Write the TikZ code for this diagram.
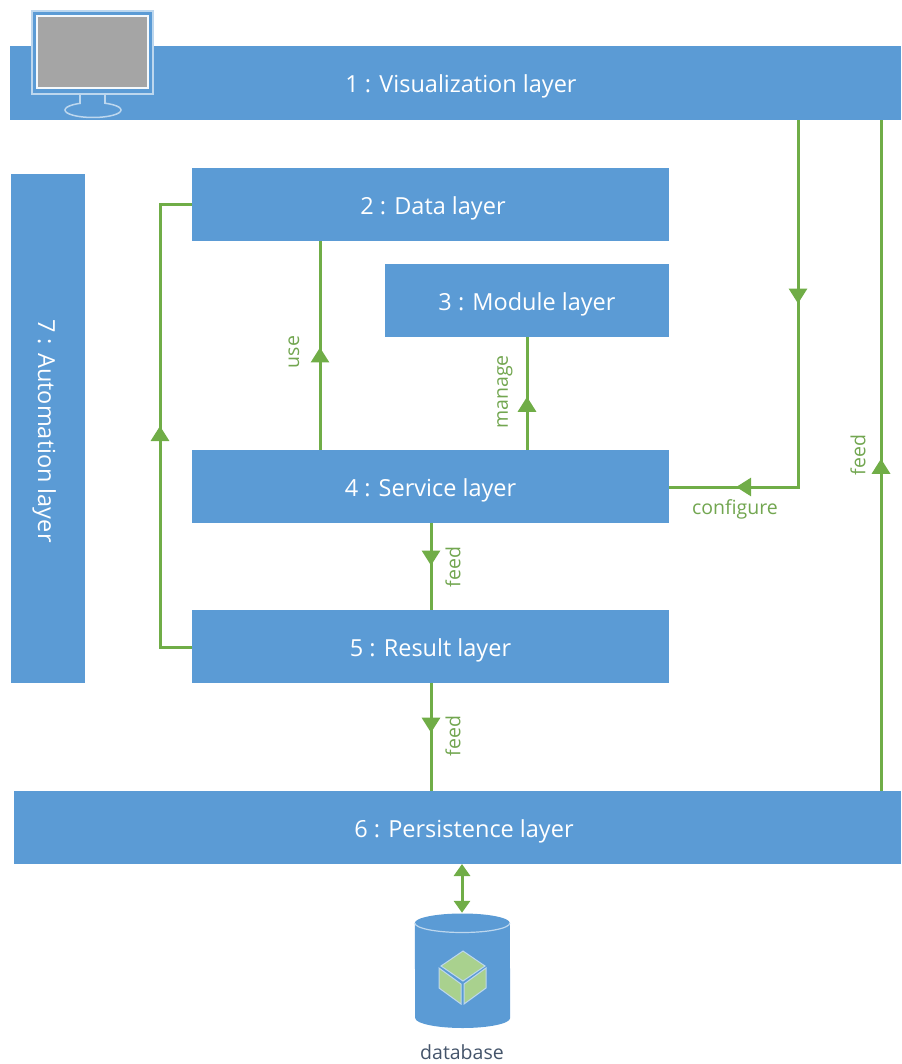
\documentclass[tikz,border=0pt]{standalone}
\usepackage{fontspec}
\setmainfont{Open Sans}
\usetikzlibrary{arrows.meta,decorations.markings}

\definecolor{layerblue}{HTML}{5B9BD5}
\definecolor{flowgreen}{HTML}{70AD47}
\definecolor{cubegreen}{HTML}{A9D18E}
\definecolor{edgeblue}{HTML}{BDD7EE}
\definecolor{screengray}{HTML}{A5A5A5}
\definecolor{dbtext}{HTML}{44546A}

\tikzset{
    layer/.style={fill=layerblue, text=white, inner sep=0pt, text height=22pt, text depth=2pt, font=\fontsize{23.5}{28}\selectfont},
    flowlabel/.style={text=flowgreen!85!gray, inner sep=0pt, font=\fontsize{19.5}{23}\selectfont},
    flow/.style={line width=3pt, draw=flowgreen},
    midhead/.style={flow, postaction={decorate}, decoration={markings,
        mark=at position #1 with {\arrow{Triangle[length=15pt,width=18pt]}}}},
    twoheads/.style 2 args={flow, postaction={decorate}, decoration={markings,
        mark=at position #1 with {\arrow{Triangle[length=15pt,width=18pt]}},
        mark=at position #2 with {\arrow{Triangle[length=15pt,width=18pt]}}}},
    bothheads/.style={flow, {Triangle[length=12pt,width=16pt]}-{Triangle[length=12pt,width=16pt]}}
}

\begin{document}
\begin{tikzpicture}[x=1pt,y=-1pt]
    \useasboundingbox (0,0) rectangle (901,1064);

    % zeichne layers
    \node (vis) [layer, minimum width=891pt, minimum height=74pt] at (455.5,83) {\hspace*{11pt}1 : Visualization layer};
    \node (data) [layer, minimum width=477pt, minimum height=73pt] at (430.5,204.5) {\hspace*{5pt}2 : Data layer};
    \node (module) [layer, minimum width=284pt, minimum height=73pt] at (527,300.5) {3 : Module layer};
    \node (service) [layer, minimum width=477pt, minimum height=73pt] at (430.5,486.5) {4 : Service layer};
    \node (result) [layer, minimum width=477pt, minimum height=73pt] at (430.5,646.5) {5 : Result layer};
    \node (persist) [layer, minimum width=887pt, minimum height=73pt] at (457.5,827.5) {\hspace*{13pt}6 : Persistence layer};
    \node (auto) [layer, rotate=-90, minimum width=509pt, minimum height=74pt] at (48,428.5) {\hspace*{5pt}7 : Automation layer};

    % zeichne monitor
    \draw[edgeblue, line width=1.8pt, fill=layerblue] (32,11) rectangle (153,94);
    \draw[white!85!edgeblue, line width=1.8pt, fill=screengray] (37,16) rectangle (148,88);
    \draw[edgeblue, line width=1.5pt] (93,110) ellipse [x radius=28, y radius=7.5];
    \fill[layerblue] (81,95) rectangle (104,105);
    \draw[edgeblue, line width=1.5pt] (80,94) -- (80,104);
    \draw[edgeblue, line width=1.5pt] (105,94) -- (105,104);

    % zeichne database
    \node (db) [inner sep=0pt, minimum width=95pt, minimum height=115pt] at (462.5,970.5) {};
    \fill[layerblue] (db.west |- 0,923) arc [start angle=180, end angle=0, x radius=47.5, y radius=-9.5]
        -- (db.east |- 0,1018) arc [start angle=0, end angle=-180, x radius=47.5, y radius=-10] -- cycle;
    \draw[edgeblue, line width=1.2pt] (db.west |- 0,923) arc [start angle=180, end angle=360, x radius=47.5, y radius=-9.5];
    \fill[cubegreen, draw=edgeblue, line width=1pt] (463,951) -- (485,966) -- (463,981) -- (441,966) -- cycle;
    \fill[cubegreen, draw=edgeblue, line width=1pt] (439,968) -- (461,984) -- (461,1004) -- (439,988) -- cycle;
    \fill[cubegreen, draw=edgeblue, line width=1pt] (464,984) -- (486,968) -- (486,988) -- (464,1004) -- cycle;
    \node (dblabel) [text=dbtext, inner sep=0pt, font=\fontsize{19.5}{23}\selectfont] at (462,1052) {database};

    % zeichne connectors
    \coordinate (cfgcorner) at (798,487);
    \coordinate (leftdata) at (160,205);
    \coordinate (leftresult) at (160,647);
    \coordinate (feedtop) at (881,120);
    \coordinate (usetop) at (320,241);
    \coordinate (managetop) at (527,337);
    \coordinate (feedmid) at (431,523);
    \coordinate (dbarrow) at (462,864);

    \draw[twoheads={0.37}{0.865}] (vis.south -| cfgcorner) -- (cfgcorner) -- (service.east |- cfgcorner);
    \draw[midhead=0.495] (persist.north -| feedtop) -- (feedtop);
    \draw[midhead=0.49] (service.north -| usetop) -- (usetop);
    \draw[midhead=0.47] (service.north -| managetop) -- (managetop);
    \draw[midhead=0.49] (feedmid) -- (result.north -| feedmid);
    \draw[midhead=0.46] (result.south -| feedmid) -- (persist.north -| feedmid);
    \draw[midhead=0.5] (result.west |- leftresult) -- (leftresult) -- (leftdata) -- (data.west |- leftdata);
    \draw[bothheads] (dbarrow) -- (db.north -| dbarrow);

    % zeichne labels
    \node (uselabel) [flowlabel, rotate=90] at (294,352) {use};
    \node (managelabel) [flowlabel, rotate=90] at (505,392) {manage};
    \node (configlabel) [flowlabel] at (735,509) {configure};
    \node (feedlabela) [flowlabel, rotate=90] at (453,567) {feed};
    \node (feedlabelb) [flowlabel, rotate=90] at (453,736) {feed};
    \node (feedlabelc) [flowlabel, rotate=90] at (858,455) {feed};
\end{tikzpicture}
\end{document}
